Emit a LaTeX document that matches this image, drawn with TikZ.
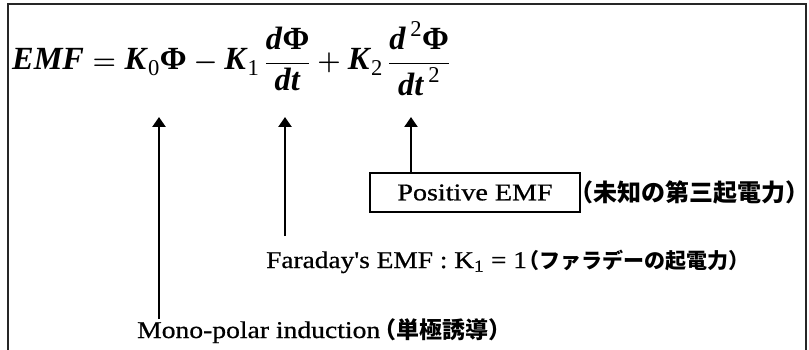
\documentclass[tikz,border=0pt]{standalone}
\usepackage{amsmath}
\usepackage{graphicx}
\usepackage{fontspec}
\setmainfont{Liberation Serif}
\newfontfamily\cjk{Noto Sans CJK JP}
\newfontfamily\labfont[FakeBold=0.7]{Liberation Serif}
\usetikzlibrary{arrows.meta}
\newcommand\bi[1]{\textbf{\textit{#1}}}
\newcommand\bsf[1]{\text{\bfseries #1}}
\newcommand\rsf[1]{\text{\mdseries\upshape #1}}
\begin{document}
\begin{tikzpicture}[x=1pt,y=-1pt,
  frame/.style={line width=1.6pt, draw=black!85},
  arr/.style={line width=2.6pt, -{Triangle[width=13pt,length=10pt]}},
  emfbox/.style={draw, line width=1.8pt, minimum width=210pt, minimum height=39pt, inner sep=0pt},
  txt/.style={anchor=base west, inner sep=0pt}]
\useasboundingbox (0,0) rectangle (809,350);
\fill[white] (0,0) rectangle (809,350);
\draw[frame] (8,352) -- (8,4) -- (806,4) -- (806,352);

% formula
\node[txt] (eq) at (12,70) {\resizebox{438pt}{!}{\fontsize{30}{36}\selectfont\boldmath$\displaystyle
 \bi{EMF} = \bi{K}_{\rsf{0}}\bsf{Φ} - \bi{K}_{\rsf{1}}\,\frac{\bi{d}\bsf{Φ}\rule[-5pt]{0pt}{5pt}}{\bi{dt}} + \bi{K}_{\rsf{2}}\,\frac{\bi{d}^{\,\rsf{2}}\bsf{Φ}\rule[-5pt]{0pt}{5pt}}{\bi{dt}^{\,\rsf{2}}}$}};

% labels
\node[emfbox] (pos) at (475,192.5) {\labfont\fontsize{24}{28}\selectfont\scalebox{1.17}[1]{Positive EMF}};
\node[txt] (posj) at (569,201) {\fontsize{24}{28}\selectfont\cjk\bfseries （未知の第三起電力）};
\node[txt] (far) at (266,268) {\makebox[252pt][l]{\labfont\fontsize{24}{28}\selectfont\scalebox{1.14}[1]{Faraday's EMF : K\textsubscript{1} = 1}}\cjk\bfseries\fontsize{21}{24}\selectfont （ファラデーの起電力）};
\node[txt] (mono) at (137,338) {\makebox[236pt][l]{\labfont\fontsize{24}{28}\selectfont\scalebox{1.15}[1]{Mono-polar induction}}\cjk\bfseries\fontsize{23}{26}\selectfont （単極誘導）};

% arrows
\coordinate (t0) at (159,117);
\coordinate (t1) at (285,117);
\coordinate (t2) at (411,117);
\coordinate (b0) at (159,319);
\coordinate (b1) at (285,236);
\draw[arr] (b0) -- (t0);
\draw[arr] (b1) -- (t1);
\draw[arr, line width=2.2pt] (pos.north -| t2) -- (t2);
\end{tikzpicture}
\end{document}
